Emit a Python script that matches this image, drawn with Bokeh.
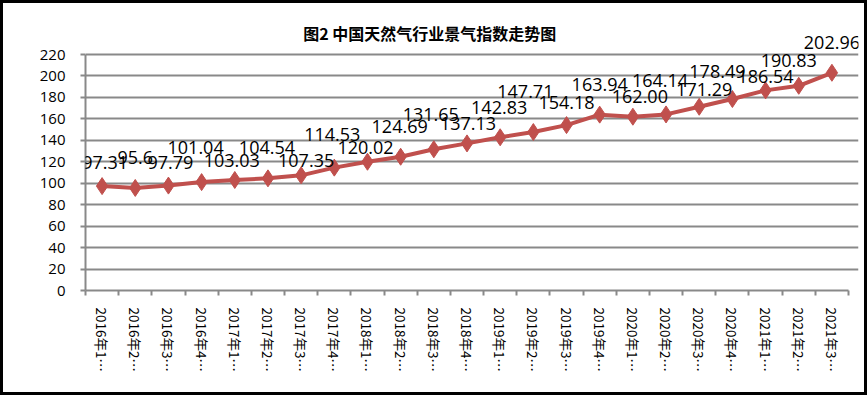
from bokeh.plotting import figure
from bokeh.models import Range1d, FixedTicker, ColumnDataSource, LabelSet, Label
from bokeh.core.properties import value
from bokeh.embed import file_html
from bokeh.resources import INLINE

title_text = "图2  中国天然气行业景气指数走势图"
categories = ["2016年1…", "2016年2…", "2016年3…", "2016年4…",
              "2017年1…", "2017年2…", "2017年3…", "2017年4…",
              "2018年1…", "2018年2…", "2018年3…", "2018年4…",
              "2019年1…", "2019年2…", "2019年3…", "2019年4…",
              "2020年1…", "2020年2…", "2020年3…", "2020年4…",
              "2021年1…", "2021年2…", "2021年3…"]
values = [97.31, 95.6, 97.79, 101.04, 103.03, 104.54, 107.35, 114.53, 120.02,
          124.69, 131.65, 137.13, 142.83, 147.71, 154.18, 163.94, 162.00,
          164.14, 171.29, 178.49, 186.54, 190.83, 202.96]
value_labels = ["97.31", "95.6", "97.79", "101.04", "103.03", "104.54", "107.35",
                "114.53", "120.02", "124.69", "131.65", "137.13", "142.83",
                "147.71", "154.18", "163.94", "162.00", "164.14", "171.29",
                "178.49", "186.54", "190.83", "202.96"]
# label placement offsets (screen px, right / up), as placed in the original
label_dx = [3, 0, 2, -6, -3, -1, 5, -2, -2, -1, -3, 1, -1, -8, 0, 0, 7, -6, 5, -15, 0, -10, 0]
label_dy = [24, 30, 23, 35, 19, 31, 15, 33, 14, 30, 35, 20, 30, 41,
            23, 30, 20, 34, 17, 28, 14, 25, 30]
y_ticks = list(range(0, 221, 20))
y_max = 220

n = len(categories)
xs = list(range(n))
RED = "#C0504D"
GRID = "#898989"

src = ColumnDataSource(dict(x=xs, y=values, t=value_labels, dx=label_dx, dy=label_dy))

# frame extends above the 220 line and right of the last category so that
# data labels outside the plotting area are not clipped
frame_h = 270
top_extra = y_max * 34 / (frame_h - 34)
right_extra = n * 10 / 763

p = figure(width=867, height=395, output_backend="svg", toolbar_location=None,
           x_range=Range1d(-0.5, n - 0.5 + right_extra), y_range=Range1d(0, y_max + top_extra),
           min_border_left=82, min_border_right=12, min_border_top=17, min_border_bottom=108)
p.styles = {"border": "3px solid black"}

p.outline_line_color = None
p.background_fill_color = "white"
p.border_fill_color = None

# title (inside extended frame), screen units from frame bottom-left
p.add_layout(Label(x=346, y=258, x_units="screen", y_units="screen", text=title_text,
                   text_align="center", text_baseline="middle",
                   text_font="Noto Sans CJK SC", text_font_size="16px",
                   text_font_style="bold", text_color="black"))

# y axis
p.yaxis.ticker = FixedTicker(ticks=y_ticks)
p.yaxis.bounds = (0, y_max)
p.yaxis.axis_line_color = GRID
p.yaxis.axis_line_width = 2
p.yaxis.major_tick_line_color = GRID
p.yaxis.major_tick_line_width = 2
p.yaxis.major_tick_out = 5
p.yaxis.major_tick_in = 0
p.yaxis.minor_tick_line_color = None
p.yaxis.major_label_text_font = "Open Sans"
p.yaxis.major_label_text_font_size = "15px"
p.yaxis.major_label_text_color = "black"
p.yaxis.major_label_standoff = 15

p.ygrid.ticker = FixedTicker(ticks=y_ticks)
p.ygrid.bounds = (-0.5, n - 0.5)
p.ygrid.grid_line_color = GRID
p.ygrid.grid_line_width = 2
p.xgrid.grid_line_color = None

# x axis: labels at centers, ticks at category boundaries
p.xaxis.ticker = FixedTicker(ticks=xs, minor_ticks=[i - 0.5 for i in range(n + 1)])
p.xaxis.bounds = (-0.5, n - 0.5)
p.xaxis.major_label_overrides = {i: c for i, c in enumerate(categories)}
p.xaxis.major_label_orientation = "vertical"
p.xaxis.major_tick_line_color = None
p.xaxis.major_tick_out = 0
p.xaxis.major_tick_in = 0
p.xaxis.minor_tick_line_color = GRID
p.xaxis.minor_tick_line_width = 2
p.xaxis.minor_tick_out = 5
p.xaxis.minor_tick_in = 0
p.xaxis.axis_line_color = GRID
p.xaxis.axis_line_width = 2
p.xaxis.major_label_text_font = "Noto Sans CJK SC"
p.xaxis.major_label_text_font_size = "13.5px"
p.xaxis.major_label_text_color = "black"
p.xaxis.major_label_standoff = 12

p.line("x", "y", source=src, line_color=RED, line_width=4)
p.scatter("x", "y", source=src, marker="diamond", size=17, fill_color=RED, line_color=RED)

labels = LabelSet(x="x", y="y", text="t", source=src, x_offset="dx", y_offset="dy",
                  text_align="center", text_baseline="middle",
                  text_font=value("Open Sans"), text_font_size=value("18px"),
                  text_color="black")
p.add_layout(labels)

open("out.html", "w").write(file_html(p, INLINE))
